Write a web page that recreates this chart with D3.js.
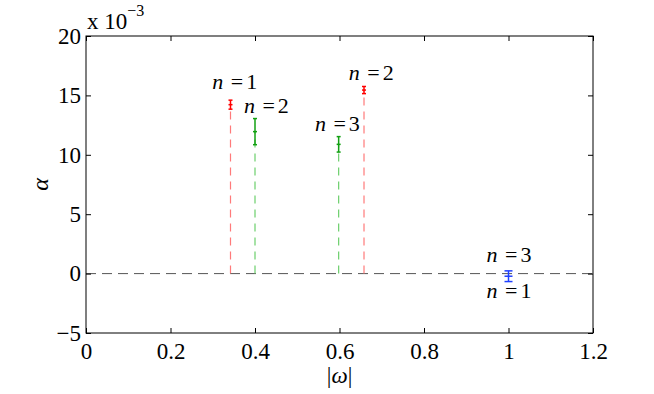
<!DOCTYPE html>
<html>
<head>
<meta charset="utf-8">
<script src="https://cdn.jsdelivr.net/npm/d3@7"></script>
</head>
<body style="margin:0">
<script>
// values (alpha in units of 1e-3)
const omega = [0.342, 0.4, 0.598, 0.658, 1.0];
const alpha = [14.22, 11.95, 10.88, 15.45, -0.22];
const alphaErr = [0.38, 1.1, 0.65, 0.3, 0.45];
const series = ["red", "green", "green", "red", "blue"];

// "n =k" annotations, anchored in data coordinates
const labelText = ["1", "2", "3", "2", "3", "1"];
const labelOmega = [0.352, 0.427, 0.595, 0.675, 1.001, 1.001];
const labelAlpha = [15.54, 13.52, 12.0, 16.3, 1.0, -2.05];

const xTicks = [0, 0.2, 0.4, 0.6, 0.8, 1, 1.2];
const yTicks = [-5, 0, 5, 10, 15, 20];

const barColor = { red: "#ff0000", green: "#12a012", blue: "#2040ff" };
const stemColor = { red: "#ff7a7a", green: "#6ccf6c", blue: "#7a8aff" };

const FONT = '"Liberation Serif"';
const width = 654, height = 394;
const margin = { left: 86, right: 61, top: 36, bottom: 61 };

const svg = d3.select("body").append("svg")
  .attr("width", width)
  .attr("height", height);

const x = d3.scaleLinear().domain([0, 1.2]).range([margin.left, width - margin.right]);
const y = d3.scaleLinear().domain([-5, 20]).range([height - margin.bottom, margin.top]);

// zero reference line
svg.append("line")
  .attr("x1", x(0)).attr("x2", x(1.2))
  .attr("y1", y(0)).attr("y2", y(0))
  .attr("stroke", "#555")
  .attr("stroke-width", 1)
  .attr("stroke-dasharray", "10,6");

// dashed stems from zero up to each point
svg.selectAll(".stem")
  .data(omega)
  .enter()
  .append("line")
    .attr("class", "stem")
    .attr("x1", d => x(d)).attr("x2", d => x(d))
    .attr("y1", y(0))
    .attr("y2", (d, i) => y(alpha[i]))
    .attr("stroke", (d, i) => stemColor[series[i]])
    .attr("stroke-width", 1.2)
    .attr("stroke-dasharray", "8,6")
    .style("display", (d, i) => series[i] === "blue" ? "none" : null);

// error bars
const bars = svg.selectAll(".ebar")
  .data(omega)
  .enter()
  .append("g")
    .attr("class", "ebar")
    .attr("stroke", (d, i) => barColor[series[i]])
    .attr("stroke-width", 1.5);

bars.append("line")
  .attr("x1", d => x(d)).attr("x2", d => x(d))
  .attr("y1", (d, i) => y(alpha[i] - alphaErr[i]))
  .attr("y2", (d, i) => y(alpha[i] + alphaErr[i]));

const capHalf = i => series[i] === "blue" ? 4 : 2;
bars.append("line")
  .attr("x1", (d, i) => x(d) - capHalf(i)).attr("x2", (d, i) => x(d) + capHalf(i))
  .attr("y1", (d, i) => y(alpha[i] + alphaErr[i]))
  .attr("y2", (d, i) => y(alpha[i] + alphaErr[i]));
bars.append("line")
  .attr("x1", (d, i) => x(d) - capHalf(i)).attr("x2", (d, i) => x(d) + capHalf(i))
  .attr("y1", (d, i) => y(alpha[i] - alphaErr[i]))
  .attr("y2", (d, i) => y(alpha[i] - alphaErr[i]));
bars.append("line")
  .attr("x1", (d, i) => x(d) - capHalf(i)).attr("x2", (d, i) => x(d) + capHalf(i))
  .attr("y1", (d, i) => y(alpha[i]))
  .attr("y2", (d, i) => y(alpha[i]));

// axes with inward ticks on all four sides
function styleAxis(g) {
  g.attr("font-family", FONT).attr("font-size", null);
  g.select(".domain").remove();
  g.selectAll(".tick line").attr("stroke", "#000").attr("stroke-width", 1);
  g.selectAll(".tick text")
    .attr("fill", "#000")
    .attr("font-family", FONT)
    .style("font-size", "23px");
}

svg.append("g")
  .attr("transform", `translate(0,${y(-5)})`)
  .call(d3.axisBottom(x).tickValues(xTicks).tickSize(-5).tickPadding(10)
    .tickFormat(d => d === 0 || d === 1 ? d3.format("d")(d) : d3.format(".1f")(d)))
  .call(styleAxis);

svg.append("g")
  .attr("transform", `translate(0,${y(20)})`)
  .call(d3.axisTop(x).tickValues(xTicks).tickSize(-5).tickFormat(""))
  .call(styleAxis);

svg.append("g")
  .attr("transform", `translate(${x(0)},0)`)
  .call(d3.axisLeft(y).tickValues(yTicks).tickSize(-5).tickPadding(5))
  .call(styleAxis);

svg.append("g")
  .attr("transform", `translate(${x(1.2)},0)`)
  .call(d3.axisRight(y).tickValues(yTicks).tickSize(-5).tickFormat(""))
  .call(styleAxis);

// frame
svg.append("rect")
  .attr("x", x(0)).attr("y", y(20))
  .attr("width", x(1.2) - x(0)).attr("height", y(-5) - y(20))
  .attr("fill", "none")
  .attr("stroke", "#000")
  .attr("stroke-width", 1);

// exponent note
const expo = svg.append("text")
  .attr("x", x(0) + 1)
  .attr("y", 29)
  .attr("font-family", FONT)
  .style("font-size", "23px");
expo.append("tspan").text("x 10");
expo.append("tspan").attr("dy", -13).style("font-size", "16px").text("\u22123");

// annotations
const notes = svg.selectAll(".note")
  .data(labelText)
  .enter()
  .append("text")
    .attr("class", "note")
    .attr("x", (d, i) => x(labelOmega[i]))
    .attr("y", (d, i) => y(labelAlpha[i]))
    .attr("text-anchor", "middle")
    .attr("font-family", FONT)
    .style("font-size", "22px");
notes.append("tspan").attr("font-style", "italic").text("n");
notes.append("tspan").attr("dx", 2).text(" =");
notes.append("tspan").attr("dx", 3).text(d => d);

// axis titles
svg.append("text")
  .attr("transform", `translate(48,${(y(20) + y(-5)) / 2}) rotate(-90)`)
  .attr("text-anchor", "middle")
  .attr("font-family", FONT)
  .attr("font-style", "italic")
  .style("font-size", "24px")
  .text("\u03b1");

const xt = svg.append("text")
  .attr("x", (x(0) + x(1.2)) / 2)
  .attr("y", 383)
  .attr("text-anchor", "middle")
  .attr("font-family", FONT)
  .style("font-size", "23px");
xt.append("tspan").text("|");
xt.append("tspan").attr("font-style", "italic").text("\u03c9");
xt.append("tspan").text("|");
</script>
</body>
</html>
